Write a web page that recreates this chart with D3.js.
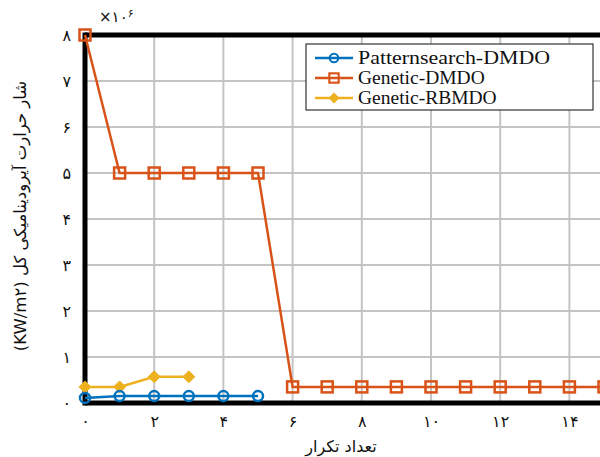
<!DOCTYPE html>
<html><head><meta charset="utf-8">
<script src="https://cdn.jsdelivr.net/npm/d3@7"></script>
<style>body{margin:0;background:#fff}svg{display:block}</style>
</head><body>
<script>
const seriesNames = ["Patternsearch-DMDO", "Genetic-DMDO", "Genetic-RBMDO"];
const patternX = [0, 1, 2, 3, 4, 5];
const patternY = [0.11, 0.15, 0.15, 0.15, 0.15, 0.15];
const geneticDX = [0, 1, 2, 3, 4, 5, 6, 7, 8, 9, 10, 11, 12, 13, 14, 15];
const geneticDY = [8, 5, 5, 5, 5, 5, 0.35, 0.35, 0.35, 0.35, 0.35, 0.35, 0.35, 0.35, 0.35, 0.35];
const geneticRX = [0, 1, 2, 3];
const geneticRY = [0.35, 0.35, 0.57, 0.57];
const xTicks = [0, 2, 4, 6, 8, 10, 12, 14];
const yTicks = [0, 1, 2, 3, 4, 5, 6, 7, 8];
const xLabel = "تعداد تکرار";
const yLabel = "شار حرارت آیرودینامیکی کل (KW/m";
const yLabelSup = "۲";
const colors = ["#0072BD", "#D95319", "#EDB120"];

const fa = n => String(n).replace(/[0-9]/g, d => "۰۱۲۳۴۵۶۷۸۹"[d]);

const W = 600, H = 457;
const svg = d3.select("body").append("svg").attr("width", W).attr("height", H);
const x = d3.scaleLinear().domain([0, 16]).range([85, 85 + 34.6 * 16]);
const y = d3.scaleLinear().domain([0, 8]).range([403, 35]);

// grid
const g = svg.append("g");
g.selectAll(".hg").data(yTicks).join("line")
  .attr("x1", x(0)).attr("x2", W).attr("y1", d => y(d)).attr("y2", d => y(d))
  .attr("stroke", "#c4c4c4").attr("stroke-width", 2);
g.selectAll(".vg").data([0,2,4,6,8,10,12,14,16]).join("line")
  .attr("x1", d => x(d)).attr("x2", d => x(d)).attr("y1", y(0)).attr("y2", y(8))
  .attr("stroke", "#c4c4c4").attr("stroke-width", 2);

// axes
const xAxis = d3.axisBottom(x).tickValues(xTicks).tickSize(0).tickPadding(13).tickFormat(fa);
const yAxis = d3.axisLeft(y).tickValues(yTicks).tickSize(0).tickPadding(14).tickFormat(fa);
const ax = svg.append("g").attr("transform", `translate(0,${y(0)})`).call(xAxis);
const ay = svg.append("g").attr("transform", `translate(${x(0)},0)`).call(yAxis);
[ax, ay].forEach(a => {
  a.select(".domain").remove();
  a.selectAll("text").attr("font-family", "DejaVu Sans").attr("font-size", 16).attr("fill", "#111");
});
// frame
svg.append("line").attr("x1", x(0)).attr("x2", W).attr("y1", y(0)).attr("y2", y(0)).attr("stroke", "#000").attr("stroke-width", 5);
svg.append("line").attr("x1", x(0)).attr("x2", W).attr("y1", y(8)).attr("y2", y(8)).attr("stroke", "#000").attr("stroke-width", 5);
svg.append("line").attr("x1", x(0)).attr("x2", x(0)).attr("y1", y(8) - 2.5).attr("y2", y(0) + 2.5).attr("stroke", "#000").attr("stroke-width", 5);

// exponent
const ex = svg.append("text").attr("x", 99).attr("y", 22).attr("font-family", "DejaVu Sans").attr("font-size", 15).attr("fill", "#111");
ex.append("tspan").text("×" + fa(10));
ex.append("tspan").attr("dy", -5).attr("font-size", 11).text(fa(6));

const line = d3.line().x(d => x(d[0])).y(d => y(d[1]));
const series = [
  { pts: d3.zip(patternX, patternY), c: colors[0], m: "circle" },
  { pts: d3.zip(geneticDX, geneticDY), c: colors[1], m: "square" },
  { pts: d3.zip(geneticRX, geneticRY), c: colors[2], m: "diamond" }
];
function marker(sel, type, c) {
  if (type === "circle") {
    sel.append("circle").attr("r", 5).attr("fill", "none").attr("stroke", c).attr("stroke-width", 2.5);
  } else if (type === "square") {
    sel.append("rect").attr("x", -5.5).attr("y", -5.5).attr("width", 11).attr("height", 11).attr("fill", "none").attr("stroke", c).attr("stroke-width", 2.5);
  } else {
    sel.append("path").attr("d", "M0,-6L6,0L0,6L-6,0Z").attr("fill", c).attr("stroke", c).attr("stroke-width", 1);
  }
}
series.slice().reverse().forEach(s => {
  svg.append("path").datum(s.pts).attr("d", line).attr("fill", "none").attr("stroke", s.c).attr("stroke-width", 2.5);
  s.pts.forEach(p => {
    const gm = svg.append("g").attr("transform", `translate(${x(p[0])},${y(p[1])})`);
    marker(gm, s.m, s.c);
  });
});

// legend
const lg = svg.append("g");
lg.append("rect").attr("x", 306).attr("y", 44).attr("width", 287).attr("height", 66).attr("fill", "#fff").attr("stroke", "#333").attr("stroke-width", 1.2);
series.forEach((s, i) => {
  const yy = 58 + i * 20;
  lg.append("line").attr("x1", 315).attr("x2", 353).attr("y1", yy).attr("y2", yy).attr("stroke", s.c).attr("stroke-width", 2.5);
  const gm = lg.append("g").attr("transform", `translate(334,${yy}) scale(0.85)`);
  marker(gm, s.m, s.c);
  lg.append("text").attr("x", 358).attr("y", yy + 6).attr("font-family", "Liberation Serif").attr("font-size", 19.5)
    .attr("textLength", 192).attr("lengthAdjust", "spacingAndGlyphs").attr("fill", "#111")
    .attr("textLength", i === 0 ? 192 : null).text(seriesNames[i]);
});

// axis labels
svg.append("text").attr("x", 341).attr("y", 452).attr("text-anchor", "middle").attr("direction", "rtl")
  .attr("font-family", "DejaVu Sans").attr("font-size", 16).attr("fill", "#111").text(xLabel);
const yl = svg.append("text").attr("transform", "translate(26,216) rotate(-90)").attr("text-anchor", "middle")
  .attr("font-family", "DejaVu Sans").attr("font-size", 16.5).attr("fill", "#111");
yl.append("tspan").text("\u202B" + yLabel + yLabelSup + ")\u202C");
</script>
</body></html>
